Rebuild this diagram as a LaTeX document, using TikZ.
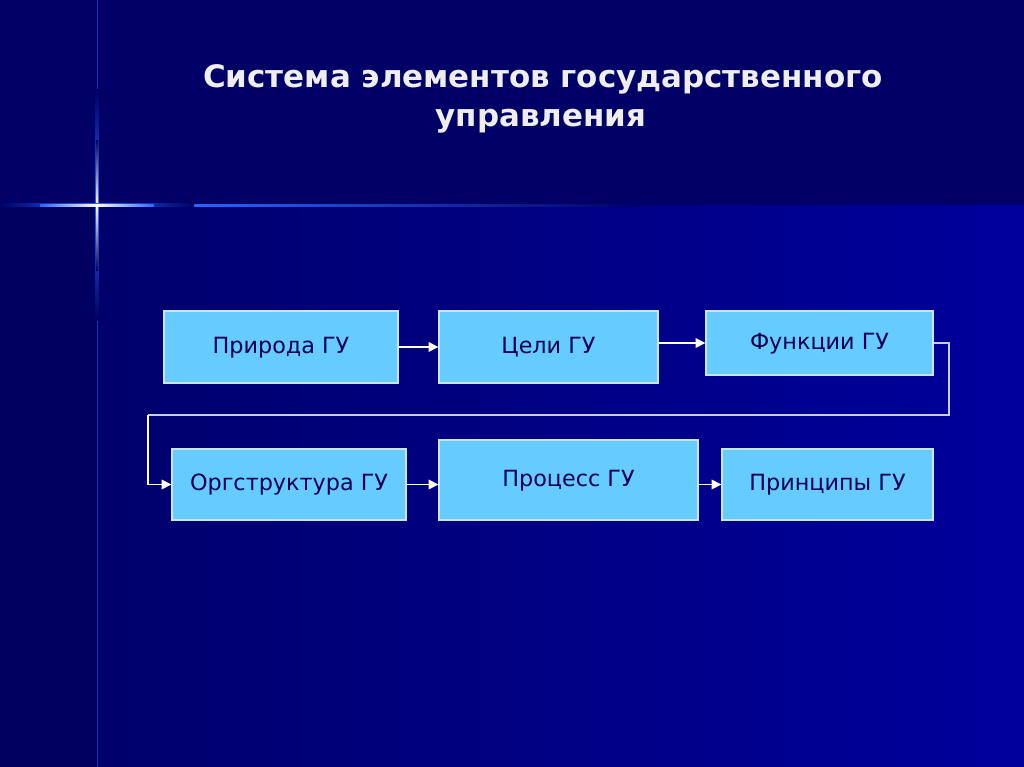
\documentclass[tikz,border=0pt]{standalone}
\usepackage{fontspec}
\setmainfont{DejaVu Sans}
\usepackage{tikz}
\usetikzlibrary{positioning, arrows.meta}

\definecolor{topband}{RGB}{0,0,102}
\definecolor{lowleft}{RGB}{0,0,108}
\definecolor{lowright}{RGB}{0,0,156}
\definecolor{strip}{RGB}{0,0,96}
\definecolor{boxfill}{RGB}{102,204,255}
\definecolor{boxline}{RGB}{200,230,255}
\definecolor{boxtext}{RGB}{0,0,80}
\definecolor{titletext}{RGB}{238,238,238}
\definecolor{glow}{RGB}{40,100,255}
\definecolor{wire}{RGB}{200,205,255}

\begin{document}
\begin{tikzpicture}[x=0.02cm, y=-0.02cm,
    box/.style={rectangle, draw=boxline, line width=0.8pt, fill=boxfill,
                text=boxtext, font=\fontsize{12.7}{14}\selectfont, inner sep=0pt,
                text height=1.6ex, text depth=0.3ex},
    link/.style={draw=white, line width=0.8pt, -{Triangle[length=5.5pt, width=5.5pt]}},
    heading/.style={text=titletext, font=\bfseries\fontsize{17.6}{20}\selectfont, anchor=base}]
    \useasboundingbox (0,0) rectangle (1024,767);

    % background
    \fill[topband] (0,0) rectangle (1024,205);
    \shade[left color=lowleft, right color=lowright] (97,205) rectangle (1024,767);
    \fill[strip] (0,205) rectangle (97,767);

    % star
    \draw[glow, line width=0.5pt, opacity=0.5] (97,0) -- (97,767);
    \shade[left color=glow, right color=topband] (194,204) rectangle (640,206);
    \shade[top color=topband, bottom color=strip, middle color=glow] (95.5,90) rectangle (98.5,320);
    \shade[top color=topband, bottom color=strip, middle color=white] (96,140) rectangle (98,270);
    \shade[left color=topband, right color=topband, middle color=glow] (0,203.5) rectangle (194,206.5);
    \shade[left color=glow, right color=glow, middle color=white] (40,204) rectangle (154,206);

    % title
    \node[heading] (title1) at (543,88) {Система элементов государственного};
    \node[heading] (title2) at (541,127) {управления};

    % boxes
    \node[box, minimum width=4.68cm, minimum height=1.44cm] (priroda) at (281,347) {Природа ГУ};
    \node[box, minimum width=4.38cm, minimum height=1.44cm] (celi) at (548.5,347) {Цели ГУ};
    \node[box, minimum width=4.54cm, minimum height=1.28cm] (funkcii) at (819.5,343) {Функции ГУ};
    \node[box, minimum width=4.68cm, minimum height=1.42cm] (orgstr) at (289,484.5) {Оргструктура ГУ};
    \node[box, minimum width=5.18cm, minimum height=1.60cm] (process) at (568.5,480) {Процесс ГУ};
    \node[box, minimum width=4.22cm, minimum height=1.42cm] (princip) at (827.5,484.5) {Принципы ГУ};

    \coordinate (turnR) at (949,415);
    \coordinate (turnL) at (148,415);

    % connectors
    \draw[link] (priroda) -- (celi);
    \draw[link] (celi.east |- funkcii.west) -- (funkcii.west);
    \draw[line width=0.8pt, wire] (funkcii.east) -| (turnR) -- (turnL);
    \draw[link] (turnL) |- (orgstr.west);
    \draw[link] (orgstr.east) -- (orgstr.east -| process.west);
    \draw[link] (process.east |- princip.west) -- (princip.west);
\end{tikzpicture}
\end{document}
